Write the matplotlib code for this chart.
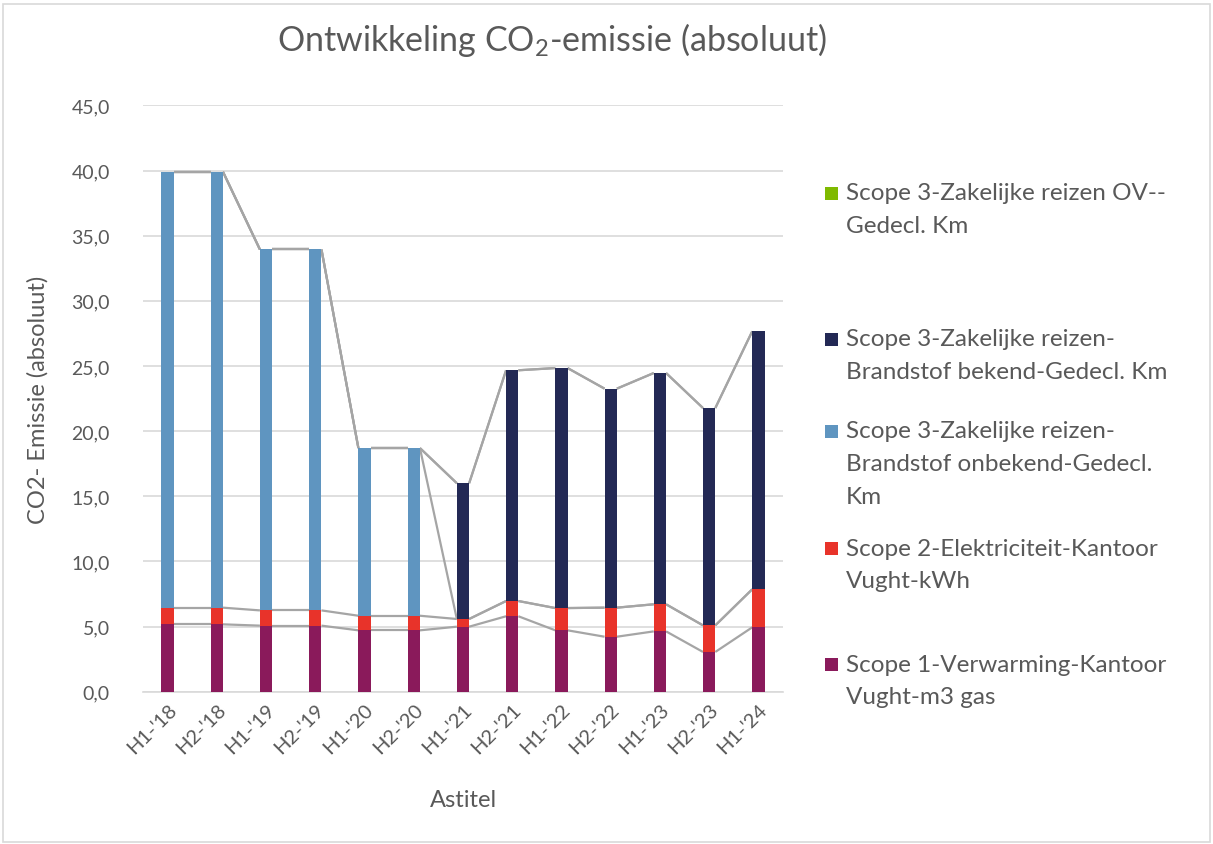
import matplotlib
matplotlib.use("Agg")
import matplotlib.pyplot as plt
from matplotlib.patches import Rectangle
import numpy as np

plt.rcParams['font.family'] = ['Lato', 'DejaVu Sans']
plt.rcParams['mathtext.fontset'] = 'custom'
plt.rcParams['mathtext.rm'] = 'Lato'
plt.rcParams['mathtext.it'] = 'Lato'

categories = ["H1-'18", "H2-'18", "H1-'19", "H2-'19", "H1-'20", "H2-'20", "H1-'21",
              "H2-'21", "H1-'22", "H2-'22", "H1-'23", "H2-'23", "H1-'24"]
scope1_gas = [5.17, 5.17, 5.07, 5.07, 4.71, 4.71, 4.99, 5.79, 4.71, 4.22, 4.63, 3.05, 4.94]
scope2_elec = [1.28, 1.28, 1.17, 1.17, 1.12, 1.12, 0.59, 1.17, 1.71, 2.23, 2.08, 2.04, 2.92]
scope3_onbekend = [33.45, 33.45, 27.70, 27.70, 12.87, 12.87, 0, 0, 0, 0, 0, 0, 0]
scope3_bekend = [0, 0, 0, 0, 0, 0, 10.42, 17.71, 18.42, 16.81, 17.75, 16.68, 19.80]
scope3_ov = [0, 0, 0, 0, 0, 0, 0, 0, 0, 0, 0, 0, 0]

series = [scope1_gas, scope2_elec, scope3_onbekend, scope3_bekend, scope3_ov]
colors = ['#8A1A5B', '#E8332A', '#5F95C0', '#232955', '#7FBA00']
legend_lines = [
    ["Scope 1-Verwarming-Kantoor", "Vught-m3 gas"],
    ["Scope 2-Elektriciteit-Kantoor", "Vught-kWh"],
    ["Scope 3-Zakelijke reizen-", "Brandstof onbekend-Gedecl.", "Km"],
    ["Scope 3-Zakelijke reizen-", "Brandstof bekend-Gedecl. Km"],
    ["Scope 3-Zakelijke reizen OV--", "Gedecl. Km"],
]
yticks = [0, 5, 10, 15, 20, 25, 30, 35, 40, 45]

W, H = 1213, 845
fig = plt.figure(figsize=(W / 100, H / 100), dpi=100)
fig.patches.append(Rectangle((3 / W, 2 / H), (W - 6) / W, (H - 7) / H, transform=fig.transFigure,
                             fill=False, edgecolor='#D9D9D9', linewidth=1.2))

ax = fig.add_axes([143 / W, 1 - 692.7 / H, 640 / W, (692.7 - 106.4) / H])
x = np.arange(len(categories))
bw = 0.25
bottom = np.zeros(len(categories))
cums = []
for vals, c in zip(series, colors):
    v = np.array(vals, dtype=float)
    ax.bar(x, v, bw, bottom=bottom, color=c, zorder=3, linewidth=0)
    bottom = bottom + v
    cums.append(bottom.copy())

# series lines
for cum in cums:
    for i in range(len(x) - 1):
        ax.plot([x[i] + bw / 2, x[i + 1] - bw / 2], [cum[i], cum[i + 1]],
                color='#A5A5A5', linewidth=1.6, zorder=2, solid_capstyle='butt')

ax.set_xlim(-0.5, len(categories) - 0.5)
ax.set_ylim(0, 45)
ax.set_yticks(yticks)
ax.set_yticklabels([f"{t:.1f}".replace('.', ',') for t in yticks], fontsize=14, color='#595959')
ax.yaxis.grid(True, color='#D9D9D9', linewidth=1.2, zorder=0)
ax.set_axisbelow(True)
ax.tick_params(axis='y', length=0, pad=24)
ax.tick_params(axis='x', length=0, pad=6)
ax.set_xticks(x)
ax.set_xticklabels(categories, rotation=45, ha='right', rotation_mode='anchor',
                   fontsize=14.5, color='#595959')
for s in ['top', 'right', 'left']:
    ax.spines[s].set_visible(False)
ax.spines['bottom'].set_color('#D9D9D9')
ax.spines['bottom'].set_linewidth(1.2)

fig.text(38 / W, 1 - 400 / H, "CO2- Emissie (absoluut)", rotation=90, ha='center', va='center',
         fontsize=17, color='#595959')
fig.text(463 / W, 1 - 801 / H, "Astitel", ha='center', va='center', fontsize=17, color='#595959')
fig.text(552 / W, 1 - 40 / H, "Ontwikkeling CO$_2$-emissie (absoluut)", ha='center', va='center',
         fontsize=24.5, color='#595959')

# legend (top entry = top of stack)
first_y = [665, 549, 432, 340, 194]
line_h = 33
for k in range(len(series)):
    y0 = first_y[k]
    fig.patches.append(Rectangle((825 / W, 1 - (y0 + 6.5) / H), 13 / W, 13 / H,
                                 transform=fig.transFigure, facecolor=colors[k], edgecolor='none'))
    for j, line in enumerate(legend_lines[k]):
        fig.text(846 / W, 1 - (y0 + j * line_h) / H, line, ha='left', va='center',
                 fontsize=17.5, color='#595959')

fig.savefig('out.png', dpi=100)
